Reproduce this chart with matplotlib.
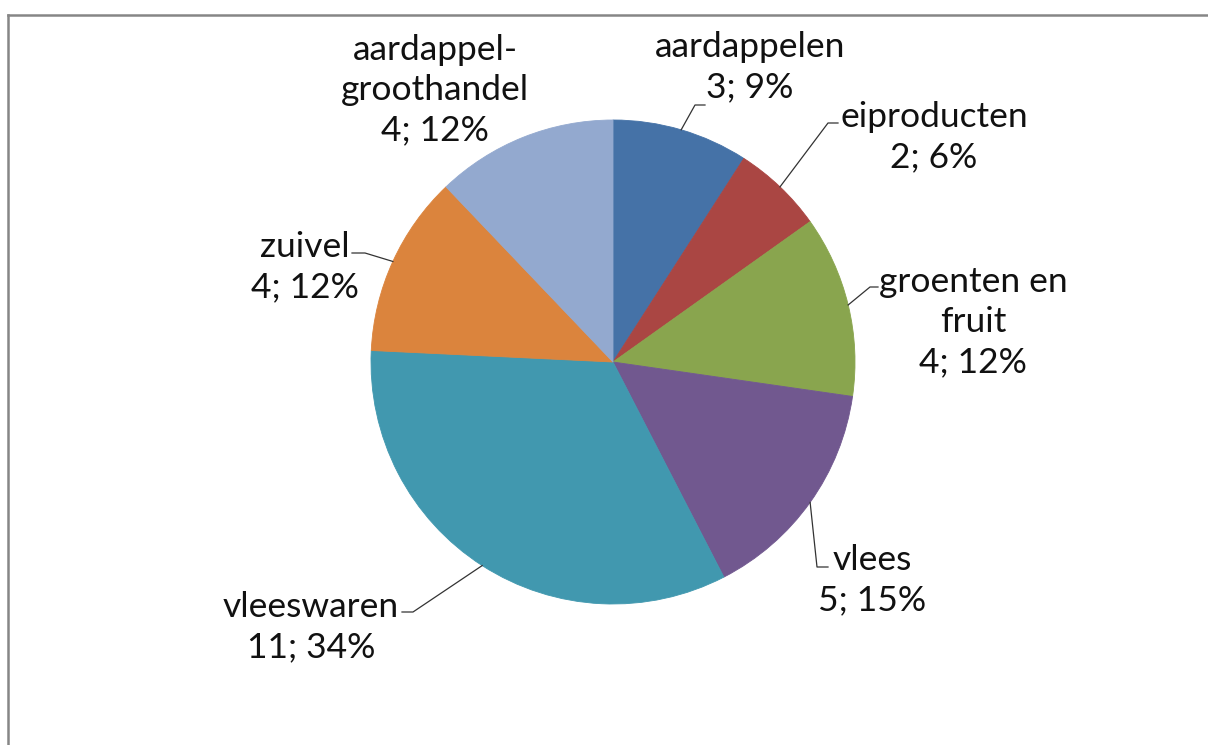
import numpy as np
import matplotlib.pyplot as plt
from matplotlib.lines import Line2D

categories = ["aardappelen", "eiproducten", "groenten en\nfruit", "vlees",
              "vleeswaren", "zuivel", "aardappel-\ngroothandel"]
values = [3, 2, 4, 5, 11, 4, 4]
colors = ["#4572A7", "#AA4643", "#89A54E", "#71588F", "#4198AF", "#DB843D", "#93A9CF"]

W, H = 1208, 745
fig = plt.figure(figsize=(W / 100, H / 100), dpi=100)
ax = fig.add_axes([0, 0, 1, 1])

def P(x, y):
    return (x, H - y)

cx, cy = P(613, 362)
R = 242
wedges, _ = ax.pie(values, colors=colors, startangle=90, counterclock=False,
                   center=(cx, cy), radius=R, frame=True,
                   wedgeprops=dict(linewidth=0.6, antialiased=True))
for w, c in zip(wedges, colors):
    w.set_edgecolor(c)
ax.set_xlim(0, W)
ax.set_ylim(0, H)
ax.axis("off")

total = sum(values)
# percentages rounded so that they add up to 100 (largest remainder)
raw = [v / total * 100 for v in values]
pcts = [int(np.floor(r)) for r in raw]
short = 100 - sum(pcts)
order = sorted(range(len(raw)), key=lambda k: raw[k] - pcts[k], reverse=True)
for k in order[:short]:
    pcts[k] += 1

font = "Lato"
fs = 25.5

# label block centres (pixel coords, layout)
label_pos = [(750, 67), (934, 137), (973, 322), (872, 580),
             (311, 627), (305, 267), (435, 90)]
# leader elbows and ends (None = no leader)
leaders = [((695, 105), (705, 105)), ((828, 123), (838, 123)),
           ((870, 287), (878, 287)), ((817, 567), (828, 567)),
           ((413, 612), (402, 612)), ((365, 253), (352, 253)), None]

cum = 0
for i, (cat, v) in enumerate(zip(categories, values)):
    mid = cum + v / 2
    cum += v
    ang = np.deg2rad(90 - mid / total * 360)
    ex, ey = cx + R * np.cos(ang), cy + R * np.sin(ang)
    txt = f"{cat}\n{v}; {pcts[i]}%"
    lx, ly = P(*label_pos[i])
    ax.text(lx, ly, txt, ha="center", va="center", fontsize=fs, family=font,
            color="#111111", linespacing=1.32, multialignment="center")
    if leaders[i] is not None:
        (e1x, e1y), (e2x, e2y) = leaders[i]
        p1 = P(e1x, e1y)
        p2 = P(e2x, e2y)
        ax.add_line(Line2D([ex, p1[0], p2[0]], [ey, p1[1], p2[1]],
                           color="#333333", lw=0.9))

# chart area frame (partially visible)
ax.add_line(Line2D([8, W + 5], [H - 14.5, H - 14.5], color="#868686", lw=1.8))
ax.add_line(Line2D([8, 8], [H - 14.5, -5], color="#868686", lw=1.8))

fig.savefig("out.png", dpi=100, facecolor="white")
